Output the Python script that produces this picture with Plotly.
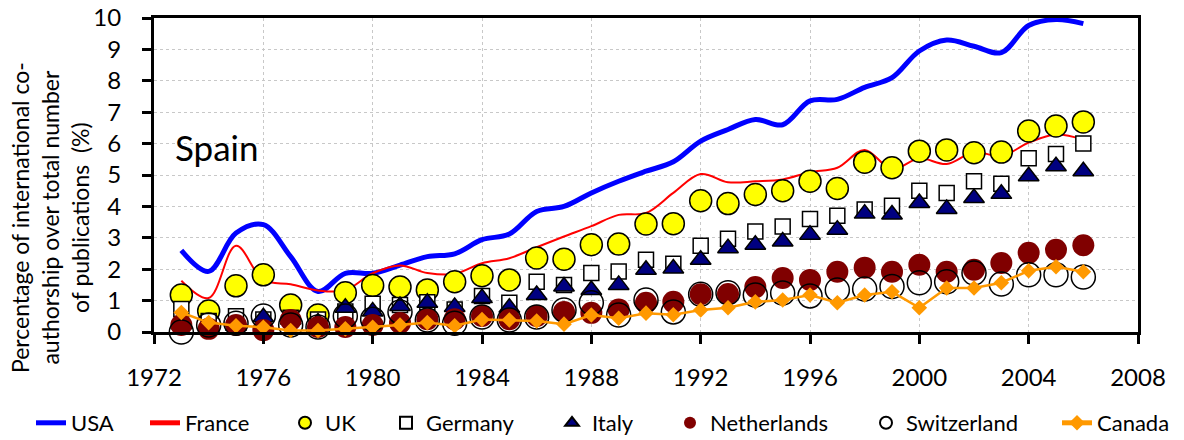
import plotly.graph_objects as go

# years on the x axis
years = list(range(1973, 2007))

# percentage of international co-authorship, Spain with each partner country
usa = [2.6, 1.93, 3.15, 3.42, 2.4, 1.29, 1.87, 1.87, 2.13, 2.4,
       2.49, 2.94, 3.12, 3.84, 4.0, 4.43, 4.8, 5.12, 5.42, 6.08,
       6.45, 6.77, 6.6, 7.36, 7.41, 7.79, 8.1, 8.95, 9.3, 9.1,
       8.9, 9.76, 9.95, 9.82]
france = [1.63, 1.08, 2.75, 1.66, 1.52, 1.32, 1.33, 1.87, 2.12, 1.88,
          1.85, 2.19, 2.35, 2.7, 3.04, 3.37, 3.73, 3.79, 4.43, 5.03,
          4.77, 4.8, 4.86, 5.09, 5.23, 5.8, 5.18, 5.53, 5.35, 5.73,
          5.6, 6.03, 6.29, 6.13]
uk = [1.18, 0.67, 1.47, 1.82, 0.86, 0.54, 1.25, 1.48, 1.43, 1.34,
      1.6, 1.79, 1.66, 2.36, 2.32, 2.78, 2.8, 3.44, 3.45, 4.18,
      4.09, 4.38, 4.5, 4.8, 4.57, 5.41, 5.23, 5.76, 5.8, 5.71,
      5.73, 6.4, 6.56, 6.69]
germany = [0.73, 0.35, 0.5, 0.4, 0.45, 0.4, 0.65, 0.9, 0.86, 0.95,
           0.72, 1.15, 0.93, 1.6, 1.5, 1.88, 1.93, 2.3, 2.17, 2.75,
           2.97, 3.2, 3.36, 3.6, 3.7, 3.9, 4.02, 4.5, 4.43, 4.8,
           4.72, 5.53, 5.67, 6.0]
italy = [0.25, 0.15, 0.2, 0.47, 0.4, 0.3, 0.77, 0.65, 0.83, 0.93,
         0.8, 1.08, 0.77, 1.18, 1.45, 1.34, 1.5, 1.98, 2.02, 2.3,
         2.67, 2.78, 2.88, 3.1, 3.26, 3.77, 3.74, 4.11, 3.92, 4.27,
         4.4, 4.96, 5.28, 5.12]
netherlands = [0.22, 0.1, 0.22, 0.06, 0.38, 0.16, 0.16, 0.22, 0.29, 0.41,
               0.41, 0.51, 0.41, 0.51, 0.64, 0.61, 0.72, 0.93, 0.96, 1.2,
               1.21, 1.43, 1.72, 1.66, 1.92, 2.05, 1.92, 2.14, 1.92, 1.98,
               2.2, 2.52, 2.62, 2.76]
switzerland = [0.0, 0.22, 0.28, 0.51, 0.22, 0.16, 0.51, 0.41, 0.64, 0.38,
               0.28, 0.48, 0.38, 0.48, 0.7, 0.93, 0.54, 1.02, 0.64, 1.2,
               1.25, 1.18, 1.24, 1.15, 1.34, 1.37, 1.45, 1.57, 1.6, 1.88,
               1.53, 1.82, 1.82, 1.75]
canada = [0.62, 0.3, 0.2, 0.15, 0.05, 0.05, 0.1, 0.15, 0.22, 0.3,
          0.2, 0.4, 0.38, 0.35, 0.25, 0.54, 0.44, 0.6, 0.55, 0.7,
          0.77, 0.96, 1.02, 1.18, 0.93, 1.18, 1.28, 0.77, 1.4, 1.4,
          1.57, 1.95, 2.08, 1.92]

x_ticks = list(range(1972, 2009, 4))
y_ticks = list(range(0, 11))

FONT = 'Lato'
W, H = 1184, 440
LEFT, RIGHT, TOP, BOTTOM = 154, 1138, 18, 332


def paper_x(px):
    return (px - LEFT) / (RIGHT - LEFT)


def paper_y(py):
    return (BOTTOM - py) / (BOTTOM - TOP)


fig = go.Figure(layout=go.Layout(width=W, height=H))

# (name, data, trace options, legend left edge in px)
series = [
    ('USA', usa, dict(mode='lines', line=dict(color='#0000FF', width=5, shape='spline')), 31),
    ('France', france, dict(mode='lines', line=dict(color='#FF0000', width=2, shape='spline')), 145),
    ('UK', uk, dict(mode='markers', marker=dict(symbol='circle', size=22, color='#FFFF00',
                                                line=dict(color='black', width=1.5))), 285),
    ('Germany', germany, dict(mode='markers', marker=dict(symbol='square', size=15, color='white',
                                                          line=dict(color='black', width=1.5))), 386),
    ('Italy', italy, dict(mode='markers', marker=dict(symbol='triangle-up', size=18, color='#000080',
                                                      line=dict(color='black', width=1.5))), 552),
    ('Netherlands', netherlands, dict(mode='markers', marker=dict(symbol='circle', size=22, color='#800000',
                                                                  line=dict(width=0))), 670),
    ('Switzerland', switzerland, dict(mode='markers', marker=dict(symbol='circle', size=24, color='rgba(0,0,0,0)',
                                                                  line=dict(color='black', width=1.5))), 866),
    ('Canada', canada, dict(mode='lines+markers', line=dict(color='#FF9900', width=2.5),
                            marker=dict(symbol='diamond', size=12, color='#FF9900')), 1057),
]

legend_y = paper_y(423)
for i, (name, data, opts, lx) in enumerate(series):
    key = 'legend' if i == 0 else 'legend%d' % (i + 1)
    fig.add_trace(go.Scatter(x=years, y=data, name=name, legend=key, cliponaxis=False, **opts))
    fig.update_layout({key: dict(x=paper_x(lx), y=legend_y, xanchor='left', yanchor='middle',
                                 orientation='h', bgcolor='rgba(0,0,0,0)', itemsizing='constant',
                                 font=dict(family=FONT, size=22, color='black'))})

axis_style = dict(showline=True, linecolor='black', linewidth=3, mirror=True,
                  ticks='outside', ticklen=9, tickwidth=3, tickcolor='black',
                  showgrid=True, gridcolor='#C8C8C8', gridwidth=1, griddash='dot',
                  zeroline=False, tickfont=dict(family=FONT, size=24, color='black'))

fig.update_xaxes(range=[1972, 2008], tickvals=x_ticks, ticklabelstandoff=13, **axis_style)
fig.update_yaxes(range=[0, 10], tickvals=y_ticks, ticklabelstandoff=16, **axis_style)

fig.update_layout(
    margin=dict(l=LEFT, r=W - RIGHT, t=TOP, b=H - BOTTOM, autoexpand=False),
    plot_bgcolor='white', paper_bgcolor='white',
    showlegend=True,
    font=dict(family=FONT, color='black'),
)

fig.add_annotation(text='Spain', x=1972.7, y=5.9, xref='x', yref='y',
                   xanchor='left', yanchor='middle', showarrow=False,
                   font=dict(family=FONT, size=35, color='black'))

fig.add_annotation(text='Percentage of international co-<br>authorship over total number<br>of publications\u00a0 (%)',
                   x=paper_x(50), y=paper_y(218), xref='paper', yref='paper',
                   xanchor='center', yanchor='middle', textangle=-90, showarrow=False,
                   font=dict(family=FONT, size=23, color='black'))

# browser default body margin would push the figure 8px down/right
fig.write_html('out.html', config={'displayModeBar': False},
               post_script="document.body.style.margin='0';")
